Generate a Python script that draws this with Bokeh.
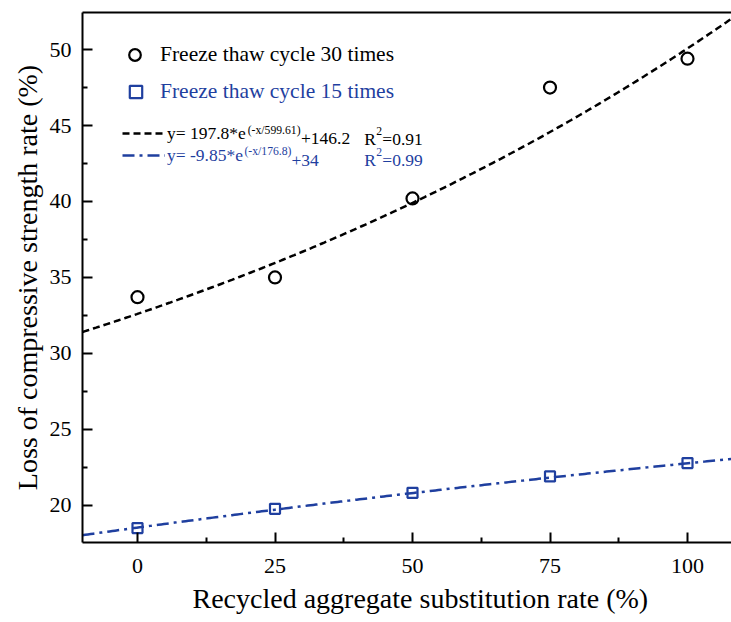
import numpy as np
from bokeh.plotting import figure
from bokeh.models import Range1d, FixedTicker, LinearAxis, Legend, LegendItem, Label, Title
from bokeh.embed import file_html
from bokeh.resources import INLINE

# ---- data ----
substitution = [0, 25, 50, 75, 100]
loss_ft30 = [33.7, 35.0, 40.2, 47.5, 49.4]
loss_ft15 = [18.5, 19.77, 20.82, 21.9, 22.78]

x_ticks = [0, 25, 50, 75, 100]
x_minor = [12.5, 37.5, 62.5, 87.5]
y_ticks = [20, 25, 30, 35, 40, 45, 50]
y_minor = [22.5, 27.5, 32.5, 37.5, 42.5, 47.5]

label30 = "Freeze thaw cycle 30 times"
label15 = "Freeze thaw cycle 15 times"
eq30_main = "y= 197.8*e"
eq30_sup = "(-x/599.61)"
eq30_tail = "+146.2"
r2_30 = "=0.91"
eq15_main = "y= -9.85*e"
eq15_sup = "(-x/176.8)"
eq15_tail = "+34"
r2_15 = "=0.99"
x_title = "Recycled aggregate substitution rate (%)"
y_title = "Loss of compressive strength rate (%)"

# fitted curves as drawn in the reference (parameters)
fit30_A, fit30_t, fit30_C = 18.69, 151.5, 13.91   # y = A*exp(x/t) + C
fit15_A, fit15_t, fit15_C = 16.32, 333.0, 34.85   # y = C - A*exp(-x/t)

BLUE = "#1f3f9f"
FONT = "Liberation Serif"

p = figure(width=731, height=622, x_range=Range1d(-10, 108.0), y_range=Range1d(17.55, 52.44),
           output_backend="svg", toolbar_location=None,
           min_border_left=82, min_border_right=0, min_border_top=12, min_border_bottom=80)
p.outline_line_color = None
p.xgrid.visible = False
p.ygrid.visible = False
p.background_fill_color = "white"
p.border_fill_color = "white"

for ax in (p.xaxis[0], p.yaxis[0]):
    ax.axis_line_width = 2
    ax.axis_line_color = "black"
    ax.major_tick_in = 10
    ax.major_tick_out = 0
    ax.minor_tick_in = 5
    ax.minor_tick_out = 0
    ax.major_tick_line_width = 2
    ax.minor_tick_line_width = 2
    ax.major_tick_line_color = "black"
    ax.minor_tick_line_color = "black"
    ax.major_label_text_font = FONT
    ax.major_label_text_font_size = "22px"
    ax.major_label_text_color = "black"
    ax.axis_label_text_font = FONT
    ax.axis_label_text_font_size = "28px"
    ax.axis_label_text_font_style = "normal"
    ax.axis_label_text_color = "black"

p.xaxis.ticker = FixedTicker(ticks=x_ticks, minor_ticks=x_minor)
p.yaxis.ticker = FixedTicker(ticks=y_ticks, minor_ticks=y_minor)
p.yaxis.axis_label = y_title
p.xaxis.major_label_standoff = 16
p.yaxis.major_label_standoff = 11
p.yaxis.axis_label_standoff = 4

top = LinearAxis(ticker=FixedTicker(ticks=[]), axis_line_width=2, axis_line_color="black",
                 major_tick_in=0, major_tick_out=0, minor_tick_in=0, minor_tick_out=0,
                 major_label_standoff=0, major_label_text_font_size="0px")
p.add_layout(top, "above")

# x-axis title, placed below the x axis (offset as in the reference)
p.add_layout(Title(text=x_title, align="left", offset=110, standoff=10,
                   text_font=FONT, text_font_size="28px", text_font_style="normal",
                   text_color="black"), "below")

xs = np.linspace(-10, 108, 240)
y30 = fit30_A * np.exp(xs / fit30_t) + fit30_C
y15 = fit15_C - fit15_A * np.exp(-xs / fit15_t)

l30 = p.line(xs, y30, line_color="black", line_width=2.5, line_dash="7 4")
l15 = p.line(xs, y15, line_color=BLUE, line_width=2.5, line_dash="12 5 3 5")

r30 = p.scatter(substitution, loss_ft30, marker="circle", size=12, fill_color=None,
                line_color="black", line_width=2.2)
r15 = p.scatter(substitution, loss_ft15, marker="square", size=10, fill_color=None,
                line_color=BLUE, line_width=2.2)

def mk_legend(label, rend, loc, gw, gh, standoff, color, size):
    return Legend(items=[LegendItem(label=label, renderers=[rend])], location=loc,
                  glyph_width=gw, glyph_height=gh, label_standoff=standoff, padding=0, margin=0,
                  border_line_color=None, background_fill_alpha=0,
                  label_text_font=FONT, label_text_font_size=size, label_text_color=color,
                  label_height=10, label_width=10)

p.add_layout(mk_legend(label30, r30, (38, 473), 29, 29, 11, "black", "21.5px"))
p.add_layout(mk_legend(label15, r15, (38, 435), 31, 31, 9, BLUE, "21.5px"))
p.add_layout(mk_legend(eq30_main, l30, (40, 397), 43, 24, 2, "black", "17.5px"))
p.add_layout(mk_legend(eq15_main, l15, (40, 375), 43, 24, 2, BLUE, "17.5px"))

def lab(x, y, text, color, size):
    p.add_layout(Label(x=x, y=y, text=text, text_color=color, text_font=FONT,
                       text_font_size=size, text_baseline="alphabetic", text_align="left"))

# black equation
lab(20.03, 44.66, eq30_sup, "black", "11.7px")
lab(29.71, 44.13, eq30_tail, "black", "17.5px")
lab(41.21, 44.13, "R", "black", "17.5px")
lab(43.43, 44.66, "2", "black", "11.7px")
lab(44.52, 44.13, r2_30, "black", "17.5px")
# blue equation
lab(19.44, 43.28, eq15_sup, BLUE, "11.7px")
lab(28.00, 42.70, eq15_tail, BLUE, "17.5px")
lab(41.21, 42.70, "R", BLUE, "17.5px")
lab(43.43, 43.28, "2", BLUE, "11.7px")
lab(44.52, 42.70, r2_15, BLUE, "17.5px")

open("out.html", "w").write(file_html(p, INLINE))
